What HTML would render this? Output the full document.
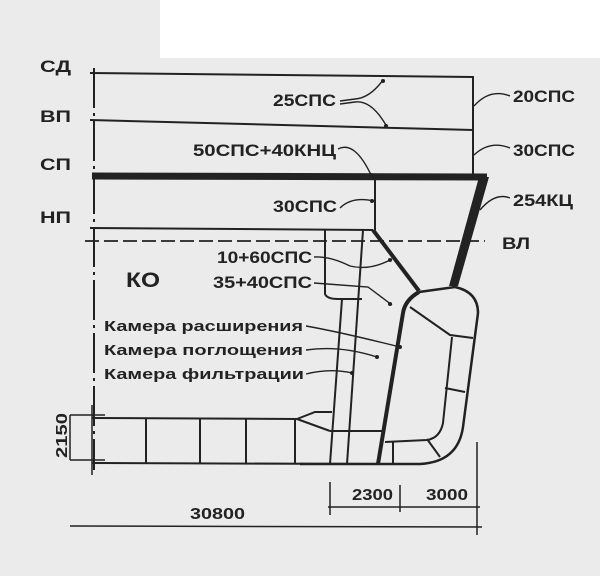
<!DOCTYPE html>
<html><head><meta charset="utf-8"><style>
html,body{margin:0;padding:0;background:#ebebeb;}
svg{display:block}
text{font-family:"Liberation Sans",sans-serif;font-weight:bold;fill:#222}
</style></head><body>
<svg width="600" height="576" viewBox="0 0 600 576" xmlns="http://www.w3.org/2000/svg">
<rect width="600" height="576" fill="#ebebeb"/>
<rect x="160" y="0" width="440" height="58" fill="#ffffff"/>
<g stroke="#222" fill="none" stroke-width="2">
<line x1="94" y1="68" x2="94" y2="470" stroke-dasharray="40,5,3,5"/>
<line x1="90" y1="73" x2="473" y2="77"/>
<line x1="90" y1="120" x2="473" y2="130"/>
<line x1="90" y1="228" x2="373" y2="230"/>
<line x1="473" y1="76" x2="473" y2="178"/>
<line x1="375" y1="178" x2="375" y2="230"/>
<line x1="85" y1="241" x2="485" y2="241" stroke-dasharray="14,5" stroke-width="1.8"/>
<line x1="92" y1="176" x2="487" y2="177" stroke-width="7"/>
<polygon points="479,177 489,177 458,286 449,286" fill="#222" stroke="none"/>
<line x1="373" y1="230" x2="419" y2="291" stroke-width="4"/>
<path d="M419,292 L455,287 Q478,292 478,313 L463,427 Q458,462 420,464 L300,464" stroke-width="2.5"/>
<path d="M419,292 Q405,300 403,313 L378,464" stroke-width="4"/>
<path d="M410,307 L450,335 L473,338"/>
<path d="M452,337 L443,423 Q440,438 427,440 L385,442"/>
<line x1="445" y1="388" x2="465" y2="392"/>
<line x1="427" y1="439" x2="440" y2="457"/>
<line x1="393" y1="442" x2="393" y2="464"/>
<path d="M325,230 L325,294 Q327,299 338,299 L362,299"/>
<line x1="363" y1="230" x2="347" y2="464"/>
<line x1="342" y1="299" x2="330" y2="464"/>
<line x1="330" y1="431" x2="383" y2="431"/>
<line x1="92" y1="418" x2="297" y2="419"/>
<line x1="92" y1="463" x2="380" y2="464"/>
<path d="M297,419 L315,412 L332,412"/>
<path d="M297,419 L330,431"/>
<line x1="146" y1="418" x2="146" y2="463"/>
<line x1="200" y1="418" x2="200" y2="463"/>
<line x1="246" y1="418" x2="246" y2="463"/>
<line x1="295" y1="419" x2="295" y2="463"/>
<g stroke-width="1.4">
<path d="M340,101 L355,99 Q370,98 383,80"/>
<path d="M340,104 L355,102 Q372,100 387,127"/>
<path d="M338,149 Q355,140 372,177"/>
<path d="M340,208 Q352,196 374,201"/>
<path d="M510,96 Q490,88 474,106"/>
<path d="M510,148 Q490,140 474,155"/>
<path d="M510,198 Q495,192 480,210"/>
<path d="M314,257 Q330,256 350,266 Q370,271 392,259"/>
<path d="M314,283 L368,287 L392,305"/>
<path d="M306,326 Q340,332 400,347"/>
<path d="M306,350 Q340,345 377,357"/>
<path d="M306,374 Q330,368 352,373"/>
</g>
<g stroke-width="1.5">
<line x1="92" y1="405" x2="92" y2="475"/>
<line x1="70" y1="415" x2="105" y2="415"/>
<line x1="70" y1="460" x2="105" y2="460"/>
<line x1="70" y1="415" x2="70" y2="460"/>
<line x1="330" y1="482" x2="330" y2="515"/>
<line x1="400" y1="485" x2="400" y2="512"/>
<line x1="477" y1="442" x2="477" y2="535"/>
<line x1="328" y1="507" x2="480" y2="507"/>
<line x1="70" y1="526" x2="482" y2="527"/>
</g>
</g>
<g fill="#222">
<circle cx="383" cy="81" r="2"/><circle cx="386" cy="126" r="2"/><circle cx="371" cy="175" r="2"/>
<circle cx="372" cy="201" r="2"/><circle cx="390" cy="260" r="2"/><circle cx="390" cy="304" r="2"/>
<circle cx="400" cy="347" r="2"/><circle cx="377" cy="357" r="2"/><circle cx="352" cy="373" r="2"/>
</g>
<g font-size="17">
<text x="40" y="72" textLength="31" lengthAdjust="spacingAndGlyphs">СД</text>
<text x="40" y="122" textLength="31" lengthAdjust="spacingAndGlyphs">ВП</text>
<text x="40" y="170" textLength="31" lengthAdjust="spacingAndGlyphs">СП</text>
<text x="40" y="223" textLength="31" lengthAdjust="spacingAndGlyphs">НП</text>
<text x="273" y="106" textLength="63" lengthAdjust="spacingAndGlyphs">25СПС</text>
<text x="193" y="156" textLength="143" lengthAdjust="spacingAndGlyphs">50СПС+40КНЦ</text>
<text x="273" y="212" textLength="64" lengthAdjust="spacingAndGlyphs">30СПС</text>
<text x="513" y="102" textLength="62" lengthAdjust="spacingAndGlyphs">20СПС</text>
<text x="513" y="156" textLength="62" lengthAdjust="spacingAndGlyphs">30СПС</text>
<text x="513" y="206" textLength="60" lengthAdjust="spacingAndGlyphs">254КЦ</text>
<text x="502" y="249" textLength="28" lengthAdjust="spacingAndGlyphs">ВЛ</text>
<text x="217" y="263" textLength="95" lengthAdjust="spacingAndGlyphs">10+60СПС</text>
<text x="213" y="288" textLength="99" lengthAdjust="spacingAndGlyphs">35+40СПС</text>
<text x="126" y="287" font-size="21" textLength="34" lengthAdjust="spacingAndGlyphs">КО</text>
<text x="104" y="331" font-size="15" textLength="199" lengthAdjust="spacingAndGlyphs">Камера расширения</text>
<text x="104" y="355" font-size="15" textLength="199" lengthAdjust="spacingAndGlyphs">Камера поглощения</text>
<text x="104" y="379" font-size="15" textLength="200" lengthAdjust="spacingAndGlyphs">Камера фильтрации</text>
<text x="352" y="500" font-size="16" textLength="41" lengthAdjust="spacingAndGlyphs">2300</text>
<text x="426" y="500" font-size="16" textLength="42" lengthAdjust="spacingAndGlyphs">3000</text>
<text x="190" y="519" font-size="16" textLength="55" lengthAdjust="spacingAndGlyphs">30800</text>
<text x="0" y="0" font-size="16" textLength="45" lengthAdjust="spacingAndGlyphs" transform="translate(67,458) rotate(-90)">2150</text>
</g>
</svg>
</body></html>
